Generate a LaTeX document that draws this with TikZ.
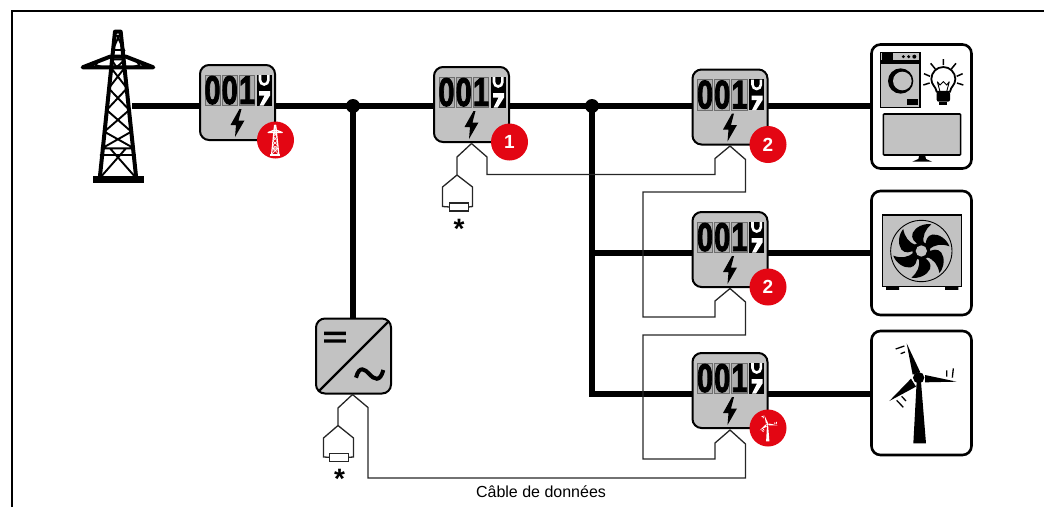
\documentclass[tikz,border=0pt]{standalone}
\usepackage{fontspec}
\setmainfont{Liberation Sans}
\newfontfamily\digitfont[BoldFeatures={FakeBold=2.5}]{Liberation Sans}
\usetikzlibrary{calc}
\definecolor{devgray}{HTML}{C2C2C2}
\definecolor{badgered}{HTML}{E30613}
\definecolor{cellgray}{HTML}{6E6E6E}
\tikzset{
  bus/.style={line width=6pt,black},
  wire/.style={line width=1.3pt,draw=black!85,line join=miter},
  devbox/.style={draw=black,line width=2.6pt,fill=white,rounded corners=9pt,minimum width=100pt,minimum height=124pt,inner sep=0,outer sep=0,anchor=north west},
  meterbox/.style={draw=black,line width=2pt,fill=devgray,rounded corners=9pt,minimum width=75pt,minimum height=75pt,inner sep=0,outer sep=0,anchor=north west},
  badge/.style={circle,fill=badgered,minimum size=37pt,inner sep=0,font=\bfseries\fontsize{19}{19}\selectfont,text=white},
  plugbox/.style={draw=black!85,line width=1.3pt,fill=white,minimum width=19pt,minimum height=8pt,inner sep=0,outer sep=0},
  dotnode/.style={circle,fill=black,minimum size=14pt,inner sep=0},
  starnode/.style={inner sep=0,font=\bfseries\fontsize{28}{28}\selectfont},
  digit/.style={inner sep=0,xscale=.72,font=\digitfont\bfseries\fontsize{40}{40}\selectfont},
  cell/.style={draw=cellgray,line width=1pt,fill=devgray!90!black},
}
% lattice tower, in units of a 3x crop
\newcommand{\towershape}[3]{% line widths: legs, lattice; colour
 \draw[#3,line width=#1,line cap=round,line join=round] (165,65)--(120,498) (182,65)--(228,498) (165,65)--(182,65);
 \draw[#3,line width=#1,line cap=round,line join=round] (68,172)--(150,140)--(198,140)--(280,172)--cycle;
 \draw[#3,line width=#2] (120,435)--(228,435) (123,415)--(224,415) (154,148)--(170,172)--(195,148) (154,148)--(195,148)
  (152,172)--(201,235)--(140,300)--(214,365)--(126,415)
  (195,172)--(146,235)--(208,300)--(133,365)--(222,415)
  (170,75)--(192,120)--(158,120)--(178,75)
  (105,165)--(120,150) (105,165)--(130,172) (240,165)--(225,150) (240,165)--(215,172)
  (125,498)--(198,415) (223,498)--(150,415);
}
% wind turbine, in units of a 3x crop
\newcommand{\turbineshape}[2]{% colour, mark width
 \fill[#1] (170,170)--(183,170)--(198,355)--(160,355)--cycle;
 \fill[#1] (140,55)--(180,140)--(158,149)--cycle;
 \fill[#1] (290,170)--(195,150)--(195,172)--cycle;
 \fill[#1] (88,228)--(153,161)--(168,185)--cycle;
 \fill[#1] (176,158) circle (17);
 \draw[#1,line width=#2] (107,72)--(133,63) (122,86)--(135,81) (260,136)--(260,155) (280,130)--(277,158) (110,226)--(130,247) (125,214)--(138,228);
}
% one meter: name, left, top, badge content
\newcommand{\meterdev}[4]{%
 \node[meterbox] (#1) at (#2,#3) {};
 \begin{scope}[shift={(#2,#3)}]
  \filldraw[cell] (5,10) rectangle (20,40.5);
  \filldraw[cell] (22,10) rectangle (37.3,40.5);
  \filldraw[cell] (39.3,10) rectangle (54.7,40.5);
  \fill[black] (56.7,9.7) rectangle (71.7,40.7);
  \draw[white,line width=2.6pt] (60,10)--(60,15) arc[start angle=180,end angle=360,x radius=4.2,y radius=-4.5]--(68.4,10);
  \fill[white] (59,26)--(70,26)--(70,30.5)--(63.5,40.7)--(59.5,40.7)--(64.5,30.5)--(59,30.5)--cycle;
  \node[digit] (#1a) at (12.5,25.2) {0};
  \node[digit] (#1b) at (29.7,25.2) {0};
  \node[digit] (#1c) at (47,25.2) {1};
  \fill[black] (39.5,44)--(30.5,60)--(36,60)--(35,72)--(44.5,55.5)--(38.5,55.5)--(41.5,44)--cycle;
 \end{scope}
 \node[badge] (#1n) at ($(#2,#3)+(75.5,75)$) {#4};
}
\begin{document}
\begin{tikzpicture}[x=1pt,y=-1pt]
\useasboundingbox (0,0) rectangle (1044,507);
% frame
\draw[line width=2.8pt,line cap=butt] (12,507)--(12,11)--(1044,11);
% named points on the bus
\coordinate (busa) at (353,106);
\coordinate (busb) at (592,106);
\coordinate (busc) at (592,253);
\coordinate (busd) at (592,394);
% devices
\node[devbox] (load) at (871.5,44.5) {};
\node[devbox] (pump) at (871.5,191) {};
\node[devbox] (wind) at (871.5,331) {};
\node[inner sep=0,minimum width=51pt,minimum height=153pt,anchor=north] (tower) at (118,30) {};
\node[draw=black,line width=2pt,fill=devgray,rounded corners=9pt,minimum width=75pt,minimum height=75pt,inner sep=0,outer sep=0,anchor=north west] (inv) at (316,318.5) {};
% bus
\draw[bus] ($(tower.center|-busa)+(14,0)$) -- (busa) -- (busb);
\draw[bus] (busa) -- (inv.north-|busa);
\draw[bus,line cap=rect] (busb) -- (busd);
\draw[bus] (busb) -- (load.west|-busb);
\draw[bus] (busc) -- (pump.west|-busc);
\draw[bus] (busd) -- (wind.west|-busd);
\node[dotnode] (dota) at (busa) {};
\node[dotnode] (dotb) at (busb) {};
% tower
\begin{scope}[shift={(60,10)},x=.3333pt,y=-.3333pt]
 \fill[black] (99,498) rectangle (252,518);
 \towershape{4pt}{1.9pt}{black}
\end{scope}
% meters
\meterdev{ma}{200}{65}{}
\meterdev{mb}{434}{67}{1}
\meterdev{mc}{692.5}{69.5}{2}
\meterdev{md}{692.5}{212}{2}
\meterdev{me}{692.5}{353}{}
% badge symbols
\begin{scope}[shift={(275.2,125)},x=.0667pt,y=-.0667pt,shift={(-174,-60)}]
 \towershape{1.2pt}{.6pt}{white}
 \fill[white] (99,498) rectangle (252,518);
\end{scope}
\begin{scope}[shift={(767.5,427)},x=.0867pt,y=-.0867pt,shift={(-176,-190)}]
 \turbineshape{white}{.8pt}
\end{scope}
% plugs
\node[plugbox] (pla) at (459,207) {};
\node[plugbox] (plb) at (339,457.3) {};
\node[starnode] (stara) at (459,229) {*};
\node[starnode] (starb) at (339.5,479) {*};
% data wires
\draw[wire] (mb.south) ++(0,1.5) -- ++(-14.5,13.5) -- ++(0,18) -- ++(-14.5,12) -- ++(0,19.5) -- (pla.west);
\draw[wire] (mb.south) ++(-14.5,33) -- ++(15.5,12) -- ++(0,19.5) -- (pla.east);
\draw[wire] (mb.south) ++(0,1.5) -- ++(15.5,13.5) |- ($(mc.south)+(-15,30)$) -- ++(0,-16) -- ($(mc.south)+(0,1.5)$) -- ++(15.5,13.5) |- ($(md.south)+(-87,-95)$) |- ($(md.south)+(-15,30)$) -- ++(0,-16) -- ($(md.south)+(0,1.5)$) -- ++(15.5,13.5) |- ($(me.south)+(-87,-93)$) |- ($(me.south)+(-15,31)$) -- ++(0,-16) -- ($(me.south)+(0,2)$) -- ++(15.5,14) |- ($(inv.south)+(14.5,84.5)$) -- ++(0,-70.5) -- ($(inv.south)+(-1,1)$) -- ++(-14.5,13.5) -- ++(0,17.5) -- ++(-14.5,12.5) -- ++(0,19) -- (plb.west);
\draw[wire] (inv.south) ++(-15.5,32) -- ++(15.5,12.5) -- ++(0,19) -- (plb.east);
% inverter symbols
\begin{scope}[shift={(300,310)},x=.3333pt,y=-.3333pt]
 \draw[line width=2.4pt] (55,245)--(267,33);
 \fill[black] (72,65) rectangle (138,75) (72,88) rectangle (138,98);
 \draw[line width=4pt] (168,203) .. controls (178,165) and (195,178) .. (208,192) .. controls (222,208) and (240,218) .. (250,180);
\end{scope}
\node[inner sep=0,font=\fontsize{16}{16}\selectfont,anchor=base] (cable) at (541,497) {Câble de données};
% load symbols
\begin{scope}[shift={(860,35)},x=.3333pt,y=-.3333pt]
 \filldraw[fill=devgray,draw=black,line width=1.6pt] (62,52) rectangle (180,78);
 \fill[black] (65,55) rectangle (100,75);
 \fill[black] (130,65) circle (5) (146,65) circle (5) (163,65) circle (6);
 \filldraw[fill=devgray,draw=black,line width=1.6pt] (62,84) rectangle (180,217);
 \fill[black] (122,138) circle (38);
 \fill[devgray] (127,138) circle (28);
 \fill[black] (141,192) rectangle (173,210);
 \draw[line width=1.8pt,fill=white] (230,170) .. controls (228,155) and (214,150) .. (214,132) arc[start angle=180,end angle=360,radius=36] .. controls (286,150) and (272,155) .. (270,170) -- cycle;
 \fill[black,rounded corners=2pt] (230,170) rectangle (270,200);
 \fill[black] (238,200) rectangle (262,210);
 \draw[line width=.9pt] (232,140)--(240,170) (268,140)--(260,170) (232,140)--(240,150)--(250,140)--(260,150)--(268,140);
 \draw[line width=1.5pt] (250,72)--(250,90) (212,85)--(226,102) (288,85)--(274,102) (192,116)--(210,124) (308,116)--(290,124) (190,150)--(209,144) (310,150)--(291,144);
 \filldraw[fill=devgray,draw=black,line width=1.6pt,rounded corners=1pt] (70,237) rectangle (302,360);
 \fill[black] (178,360)--(195,360)--(198,372)--(216,380)--(157,380)--(175,372)--cycle;
\end{scope}
% pump symbols
\begin{scope}[shift={(860,185)},x=.3333pt,y=-.3333pt]
 \filldraw[fill=devgray,draw=black,line width=1.6pt] (68,90) rectangle (305,305);
 \fill[black] (78,305) rectangle (117,315) (255,305) rectangle (295,315);
 \draw[line width=.9pt] (184,198) circle (92);
 \foreach \a in {0,60,120,180,240,300}{
  \begin{scope}[shift={(184,198)},rotate=\a]
   \fill[black] (-8,-20) .. controls (-20,-26) and (-32,-38) .. (-26,-54) .. controls (-18,-72) and (8,-84) .. (30,-80) .. controls (12,-65) and (2,-45) .. (8,-22) -- cycle;
  \end{scope}
 }
 \fill[black] (184,198) circle (27);
 \fill[devgray] (184,198) circle (17);
\end{scope}
% turbine
\begin{scope}[shift={(860,325)},x=.3333pt,y=-.3333pt]
 \turbineshape{black}{1.3pt}
\end{scope}
\end{tikzpicture}
\end{document}
